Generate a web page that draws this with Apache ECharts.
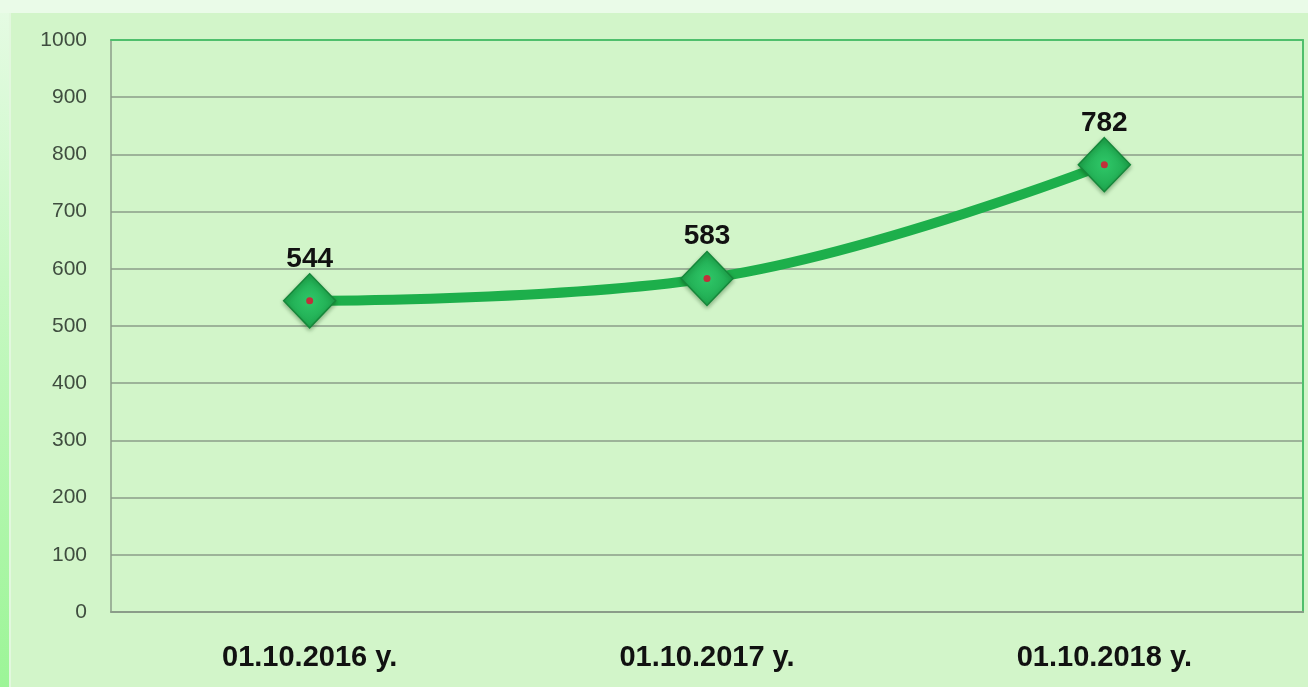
<!DOCTYPE html>
<html>
<head>
<meta charset="utf-8">
<script src="https://cdn.jsdelivr.net/npm/echarts@6/dist/echarts.min.js"></script>
<style>
  html, body { margin: 0; padding: 0; }
  body {
    width: 1308px; height: 687px; overflow: hidden; position: relative;
    background: linear-gradient(to bottom, #e6fbe4 0%, #c8f8c4 40%, #9cf597 100%);
  }
  .top-band { position: absolute; left: 0; top: 0; width: 1308px; height: 13px; background: #eafbe8; }
  .panel {
    position: absolute; left: 9px; top: 13px; right: 0; bottom: 0;
    background: #d2f5c9; border-left: 2px solid #e2f7de;
  }
  #chart { position: absolute; left: 0; top: 0; width: 1308px; height: 687px; }
</style>
</head>
<body>
<div class="top-band"></div>
<div class="panel"></div>
<div id="chart"></div>
<script>
var categories = ['01.10.2016 y.', '01.10.2017 y.', '01.10.2018 y.']
var values = [544, 583, 782]
var yTicks = { min: 0, max: 1000, interval: 100 }

var labelFont = 'Liberation Sans, Arial, sans-serif'
var chart = echarts.init(document.getElementById('chart'))
chart.setOption({
  backgroundColor: 'transparent',
  animation: false,
  grid: {
    left: 111,
    right: 5,
    top: 40,
    bottom: 75
  },
  xAxis: [
    {
      type: 'category',
      data: categories,
      boundaryGap: true,
      axisTick: { show: false },
      axisLine: { onZero: false, lineStyle: { color: '#8b9c89', width: 2 } },
      axisLabel: {
        margin: 31,
        color: '#111',
        fontFamily: labelFont,
        fontWeight: 'bold',
        fontSize: 29
      }
    },
    {
      // green frame on top
      type: 'category',
      data: categories,
      position: 'top',
      axisTick: { show: false },
      axisLabel: { show: false },
      axisLine: { onZero: false, lineStyle: { color: '#4fbf6c', width: 2 } }
    }
  ],
  yAxis: [
    {
      type: 'value',
      min: yTicks.min,
      max: yTicks.max,
      interval: yTicks.interval,
      axisTick: { show: false },
      axisLine: { show: true, onZero: false, lineStyle: { color: '#8b9c89', width: 1.5 } },
      splitLine: { lineStyle: { color: '#8b9c89', width: 1.5 } },
      axisLabel: {
        margin: 24,
        color: '#3f4d3f',
        fontFamily: labelFont,
        fontSize: 21,
        formatter: function (v) { return String(v) }
      }
    },
    {
      // green frame on the right
      type: 'value',
      position: 'right',
      min: yTicks.min,
      max: yTicks.max,
      interval: yTicks.interval,
      axisTick: { show: false },
      axisLabel: { show: false },
      splitLine: { show: false },
      axisLine: { show: true, onZero: false, lineStyle: { color: '#4fbf6c', width: 2 } }
    }
  ],
  series: [
    {
      name: 'value',
      type: 'line',
      data: values,
      smooth: 0.4,
      symbol: 'diamond',
      symbolSize: [52, 54],
      lineStyle: { color: '#1daf4b', width: 10 },
      itemStyle: {
        color: new echarts.graphic.RadialGradient(0.5, 0.5, 0.6, [
          { offset: 0, color: '#2fc768' },
          { offset: 1, color: '#1aa049' }
        ]),
        borderColor: '#15873a',
        borderWidth: 1.5,
        shadowColor: 'rgba(0, 60, 0, 0.35)',
        shadowBlur: 4,
        shadowOffsetY: 2
      },
      label: {
        show: true,
        position: 'top',
        distance: 0,
        color: '#111',
        fontFamily: labelFont,
        fontWeight: 'bold',
        fontSize: 28
      },
      z: 2
    },
    {
      name: 'dot',
      type: 'line',
      data: values,
      symbol: 'circle',
      symbolSize: 7,
      lineStyle: { opacity: 0 },
      itemStyle: { color: '#c0303a', borderWidth: 0 },
      z: 3
    }
  ]
})
</script>
</body>
</html>
